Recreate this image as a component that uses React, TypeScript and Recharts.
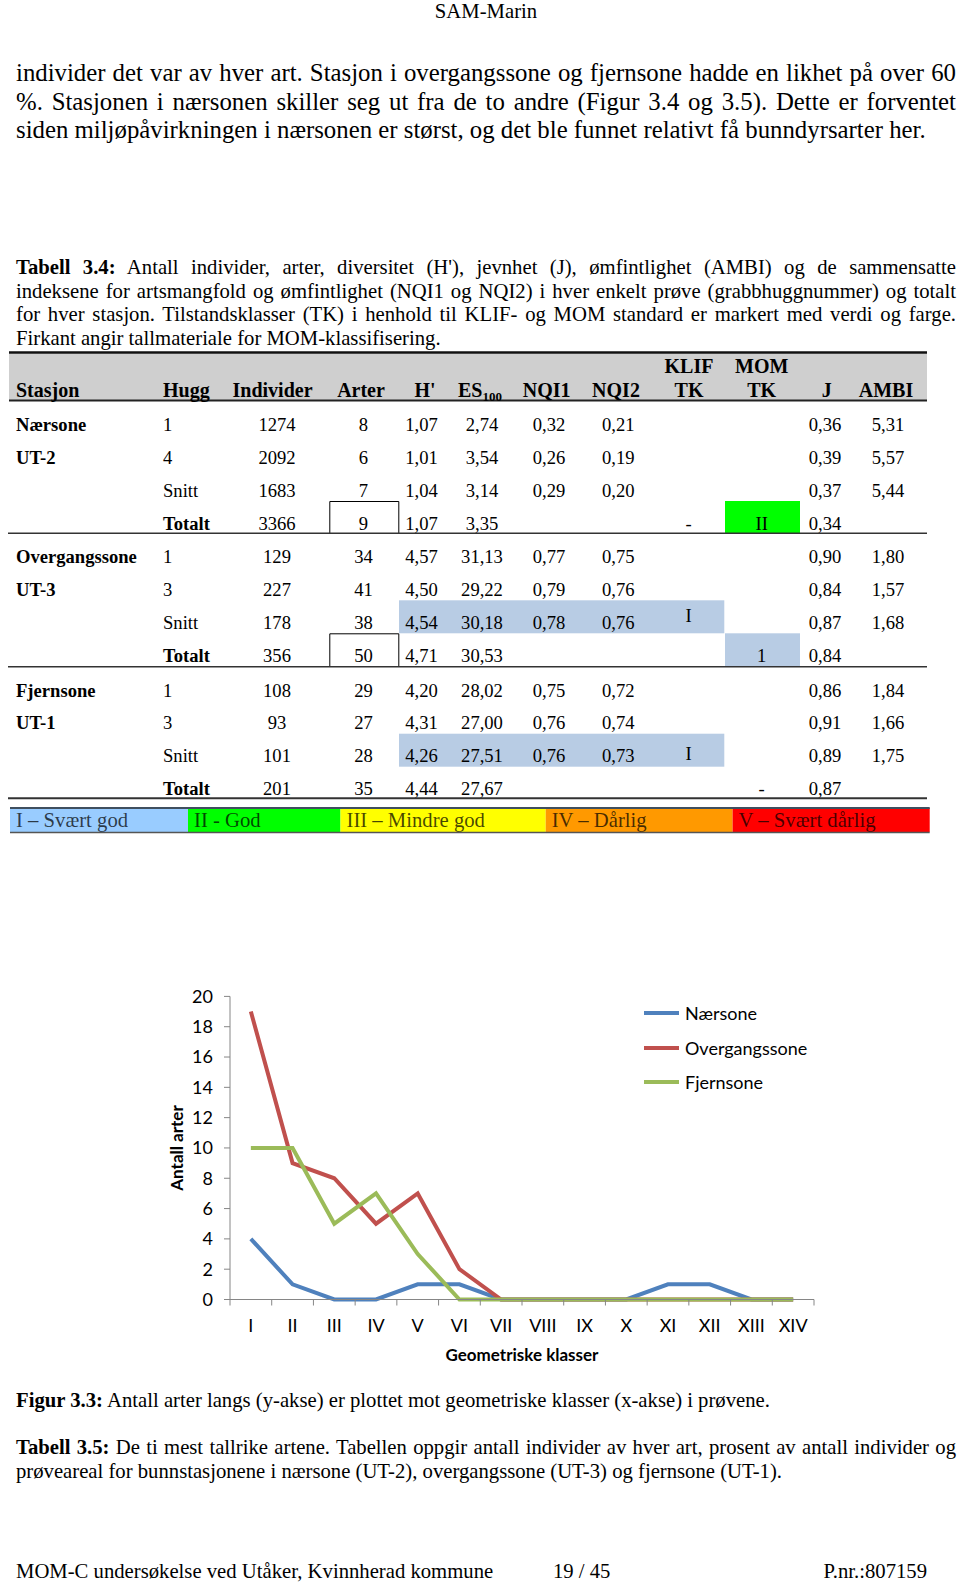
import React from 'react';
import { LineChart, Line, XAxis, YAxis, Legend, Label } from 'recharts';

// ---------------- chart data ----------------
const CATEGORIES = ['I', 'II', 'III', 'IV', 'V', 'VI', 'VII', 'VIII', 'IX', 'X', 'XI', 'XII', 'XIII', 'XIV'];
const NAERSONE = [4, 1, 0, 0, 1, 1, 0, 0, 0, 0, 1, 1, 0, 0];
const OVERGANGSSONE = [19, 9, 8, 5, 7, 2, 0, 0, 0, 0, 0, 0, 0, 0];
const FJERNSONE = [10, 10, 5, 7, 3, 0, 0, 0, 0, 0, 0, 0, 0, 0];
const SERIES_KEYS = ['naer', 'over', 'fjern'];
const SERIES_NAMES = ['Nærsone', 'Overgangssone', 'Fjernsone'];
const SERIES_COLORS = ['#4F81BD', '#C0504D', '#9BBB59'];
const Y_TICKS = [0, 2, 4, 6, 8, 10, 12, 14, 16, 18, 20];
const X_BOUNDARIES = [0.5, 1.5, 2.5, 3.5, 4.5, 5.5, 6.5, 7.5, 8.5, 9.5, 10.5, 11.5, 12.5, 13.5, 14.5];
const Y_TITLE = 'Antall arter';
const X_TITLE = 'Geometriske klasser';

// ---------------- table data ----------------
const STATIONS = ['Nærsone', 'Overgangssone', 'Fjernsone'];
const STATION_CODES = ['UT-2', 'UT-3', 'UT-1'];
const NAERSONE_ROWS = [
  ['1', '1274', '8', '1,07', '2,74', '0,32', '0,21', '', '', '0,36', '5,31'],
  ['4', '2092', '6', '1,01', '3,54', '0,26', '0,19', '', '', '0,39', '5,57'],
  ['Snitt', '1683', '7', '1,04', '3,14', '0,29', '0,20', '', '', '0,37', '5,44'],
  ['Totalt', '3366', '9', '1,07', '3,35', '', '', '-', 'II', '0,34', ''],
];
const OVERGANG_ROWS = [
  ['1', '129', '34', '4,57', '31,13', '0,77', '0,75', '', '', '0,90', '1,80'],
  ['3', '227', '41', '4,50', '29,22', '0,79', '0,76', '', '', '0,84', '1,57'],
  ['Snitt', '178', '38', '4,54', '30,18', '0,78', '0,76', 'I', '', '0,87', '1,68'],
  ['Totalt', '356', '50', '4,71', '30,53', '', '', '', '1', '0,84', ''],
];
const FJERN_ROWS = [
  ['1', '108', '29', '4,20', '28,02', '0,75', '0,72', '', '', '0,86', '1,84'],
  ['3', '93', '27', '4,31', '27,00', '0,76', '0,74', '', '', '0,91', '1,66'],
  ['Snitt', '101', '28', '4,26', '27,51', '0,76', '0,73', 'I', '', '0,89', '1,75'],
  ['Totalt', '201', '35', '4,44', '27,67', '', '', '', '-', '0,87', ''],
];
const SNITT_HIGHLIGHT = [false, true, true];
const TOTAL_MOM_FILL = ['#00FF00', '#B8CCE4', ''];
const BOXED_TOTAL = [true, true, false];
const CLASS_LABELS = ['I – Svært god', 'II - God', 'III – Mindre god', 'IV – Dårlig', 'V – Svært dårlig'];
const CLASS_COLORS = ['#99CCFF', '#00FF00', '#FFFF00', '#FF9900', '#FF0000'];

const SERIF = '"Liberation Serif", "Times New Roman", serif';
const SANS = 'Lato, "Open Sans", sans-serif';

// ---------------- layout ----------------
const CH_LEFT = 150;
const CH_TOP = 960;
const CH_W = 700;
const CH_H = 420;
const MARGIN = { top: 36.4, right: 36, bottom: 50.5, left: 20 };
const PLOT_W = CH_W - MARGIN.left - 60 - MARGIN.right;
const BAND = PLOT_W / CATEGORIES.length;

const chartData = CATEGORIES.map((c, i) => ({
  x: i + 1,
  cat: c,
  naer: NAERSONE[i],
  over: OVERGANGSSONE[i],
  fjern: FJERNSONE[i],
}));

const XTick = (props: any) => {
  const { x, y, payload } = props;
  const idx = Math.round(payload.value - 0.5);
  if (idx < 0 || idx >= CATEGORIES.length) return null;
  return (
    <text x={x + BAND / 2} y={y} dy={24} textAnchor="middle" fontSize={18} fill="#000" fontFamily={SANS}>
      {CATEGORIES[idx]}
    </text>
  );
};

const renderLegend = () => (
  <div style={{ fontFamily: SANS }}>
    {SERIES_NAMES.map((n, i) => (
      <div key={n} style={{ height: 34.3, display: 'flex', alignItems: 'center' }}>
        <span style={{ display: 'inline-block', width: 35, height: 4, background: SERIES_COLORS[i] }} />
        <span style={{ marginLeft: 6, fontSize: 18, lineHeight: '18px', color: '#000' }}>{n}</span>
      </div>
    ))}
  </div>
);

const Chart = () => (
  <div style={{ position: 'absolute', left: CH_LEFT, top: CH_TOP, width: CH_W, height: CH_H, fontFamily: SANS }}>
    <LineChart width={CH_W} height={CH_H} data={chartData} margin={MARGIN}>
      <XAxis
        type="number"
        dataKey="x"
        domain={[0.5, 14.5]}
        ticks={X_BOUNDARIES}
        interval={0}
        height={30}
        stroke="#868686"
        tickSize={6}
        tick={<XTick />}
      >
        <Label value={X_TITLE} position="bottom" offset={19} style={{ fontWeight: 'bold', fontSize: 17, fill: '#000', fontFamily: SANS }} />
      </XAxis>
      <YAxis
        type="number"
        domain={[0, 20]}
        ticks={Y_TICKS}
        interval={0}
        width={60}
        stroke="#868686"
        tickSize={6}
        tickMargin={11}
        tick={{ fill: '#000', fontSize: 18, fontFamily: SANS }}
      >
        <Label value={Y_TITLE} angle={-90} position="insideLeft" offset={7} style={{ textAnchor: 'middle', fontWeight: 'bold', fontSize: 17, fill: '#000', fontFamily: SANS }} />
      </YAxis>
      <Legend
        layout="vertical"
        align="center"
        verticalAlign="middle"
        wrapperStyle={{ left: 494, top: 36.35, width: 200 }}
        content={renderLegend}
      />
      {SERIES_KEYS.map((k, i) => (
        <Line
          key={k}
          type="linear"
          dataKey={k}
          name={SERIES_NAMES[i]}
          stroke={SERIES_COLORS[i]}
          strokeWidth={4}
          dot={false}
          activeDot={false}
          isAnimationActive={false}
        />
      ))}
    </LineChart>
  </div>
);

// ---------------- prose helpers ----------------
const Prose = ({ x, base, size, width, children }: { x: number; base: number; size: number; width?: number; children: any }) => (
  <div
    style={{
      position: 'absolute',
      left: x,
      top: base - 0.8375 * size,
      width: width ?? 'auto',
      fontSize: size,
      lineHeight: `${size}px`,
      textAlign: width ? 'justify' : 'left',
      textAlignLast: width ? 'justify' : 'auto',
      whiteSpace: width ? 'normal' : 'nowrap',
      fontFamily: SERIF,
      color: '#000',
    } as any}
  >
    {children}
  </div>
);

// ---------------- table ----------------
const GROUP_LINES = [401, 533.3, 666.7, 798.3];
const ROW_BASE = [30, 62.7, 95.5, 128.5];
const VAL_X = [277, 363.5, 421.5, 482, 549, 618.3, 688.5, 761.7, 825, 888];
const BODY = 18.6;
const HEAD = 20;

const T = ({ x, y, anchor = 'start', size = BODY, bold = false, fill = '#000', children }: any) => (
  <text x={x} y={y} textAnchor={anchor} fontSize={size} fontWeight={bold ? 'bold' : 'normal'} fill={fill} fontFamily={SERIF}>
    {children}
  </text>
);

const Table = () => {
  const groups = [NAERSONE_ROWS, OVERGANG_ROWS, FJERN_ROWS];
  return (
    <svg width={960} height={1585} style={{ position: 'absolute', left: 0, top: 0 }}>
      {/* header */}
      <rect x={9} y={353.5} width={918} height={46.5} fill="#CFCFCF" />
      <line x1={9} x2={927} y1={352.5} y2={352.5} stroke="#111" strokeWidth={2.5} />
      <line x1={9} x2={927} y1={400.5} y2={400.5} stroke="#222" strokeWidth={2} />
      <T x={16} y={397} size={HEAD} bold>Stasjon</T>
      <T x={163} y={397} size={HEAD} bold>Hugg</T>
      <T x={272.5} y={397} size={HEAD} bold anchor="middle">Individer</T>
      <T x={361} y={397} size={HEAD} bold anchor="middle">Arter</T>
      <T x={425} y={397} size={HEAD} bold anchor="middle">H'</T>
      <text x={458} y={397} fontSize={HEAD} fontWeight="bold" fontFamily={SERIF}>
        ES<tspan fontSize={13} dy={4}>100</tspan>
      </text>
      <T x={546.7} y={397} size={HEAD} bold anchor="middle">NQI1</T>
      <T x={616} y={397} size={HEAD} bold anchor="middle">NQI2</T>
      <T x={689} y={372.6} size={HEAD} bold anchor="middle">KLIF</T>
      <T x={689} y={397} size={HEAD} bold anchor="middle">TK</T>
      <T x={761.7} y={372.6} size={HEAD} bold anchor="middle">MOM</T>
      <T x={761.7} y={397} size={HEAD} bold anchor="middle">TK</T>
      <T x={826.7} y={397} size={HEAD} bold anchor="middle">J</T>
      <T x={886} y={397} size={HEAD} bold anchor="middle">AMBI</T>

      {groups.map((rows, g) => {
        const top = GROUP_LINES[g];
        const next = GROUP_LINES[g + 1];
        return (
          <g key={g}>
            {SNITT_HIGHLIGHT[g] && <rect x={399} y={top + 67} width={325.3} height={33} fill="#B8CCE4" />}
            {TOTAL_MOM_FILL[g] && <rect x={725} y={top + 100} width={75} height={next - top - 100} fill={TOTAL_MOM_FILL[g]} />}
            {BOXED_TOTAL[g] && (
              <path d={`M329.8 ${next} V${top + 100.5} H398.8 V${next}`} fill="none" stroke="#000" strokeWidth={1} />
            )}
            <T x={16} y={top + ROW_BASE[0]} bold>{STATIONS[g]}</T>
            <T x={16} y={top + ROW_BASE[1]} bold>{STATION_CODES[g]}</T>
            {rows.map((r, ri) => (
              <g key={ri}>
                <T x={163} y={top + ROW_BASE[ri]} bold={r[0] === 'Totalt'}>{r[0]}</T>
                {r.slice(1).map((v, ci) => {
                  if (!v) return null;
                  let y = top + ROW_BASE[ri];
                  if (ci === 6 && v === 'I') y -= g === 1 ? 7 : 2;
                  return (
                    <T key={ci} x={VAL_X[ci]} y={y} anchor="middle">{v}</T>
                  );
                })}
              </g>
            ))}
            <line x1={8} x2={927} y1={next} y2={next} stroke="#333" strokeWidth={g === 2 ? 2 : 1.5} />
          </g>
        );
      })}

      {/* class legend bar */}
      {CLASS_LABELS.map((lab, i) => {
        const xs = [10, 188, 340.5, 545.7, 732.6, 929.7];
        return (
          <g key={i}>
            <rect x={xs[i]} y={808} width={xs[i + 1] - xs[i]} height={24} fill={CLASS_COLORS[i]} />
            <text x={xs[i] + 6} y={827} fontSize={20.7} fontFamily={SERIF} fill="rgba(0,0,0,0.72)">{lab}</text>
          </g>
        );
      })}
      <line x1={10} x2={929.7} y1={808} y2={808} stroke="#3F4F5F" strokeWidth={2} />
      <line x1={10} x2={929.7} y1={832.5} y2={832.5} stroke="#555" strokeWidth={1.5} />
    </svg>
  );
};

export default function App() {
  return (
    <div style={{ position: 'absolute', left: 0, top: 0, width: 960, height: 1585, background: '#fff', overflow: 'hidden', fontFamily: SERIF }}>
      <div style={{ position: 'absolute', left: 286, top: 18.3 - 0.8375 * 20.7, width: 400, textAlign: 'center', fontSize: 20.7, lineHeight: '20.7px', fontFamily: SERIF }}>
        SAM-Marin
      </div>

      <Prose x={16} base={82.2} size={24.8} width={940}>individer det var av hver art. Stasjon i overgangssone og fjernsone hadde en likhet på over 60</Prose>
      <Prose x={16} base={110.5} size={24.8} width={940}>%. Stasjonen i nærsonen skiller seg ut fra de to andre (Figur 3.4 og 3.5). Dette er forventet</Prose>
      <Prose x={16} base={138.8} size={24.8}>siden miljøpåvirkningen i nærsonen er størst, og det ble funnet relativt få bunndyrsarter her.</Prose>

      <Prose x={16} base={274.2} size={20.7} width={940}><b>Tabell 3.4:</b> Antall individer, arter, diversitet (H'), jevnhet (J), ømfintlighet (AMBI) og de sammensatte</Prose>
      <Prose x={16} base={298.2} size={20.7} width={940}>indeksene for artsmangfold og ømfintlighet (NQI1 og NQI2) i hver enkelt prøve (grabbhuggnummer) og totalt</Prose>
      <Prose x={16} base={321.5} size={20.7} width={940}>for hver stasjon. Tilstandsklasser (TK) i henhold til KLIF- og MOM standard er markert med verdi og farge.</Prose>
      <Prose x={16} base={345.7} size={20.7}>Firkant angir tallmateriale for MOM-klassifisering.</Prose>

      <Table />
      <Chart />

      <Prose x={16} base={1407} size={20.7}><b>Figur 3.3:</b> Antall arter langs (y-akse) er plottet mot geometriske klasser (x-akse) i prøvene.</Prose>
      <Prose x={16} base={1454} size={20.7} width={940}><b>Tabell 3.5:</b> De ti mest tallrike artene. Tabellen oppgir antall individer av hver art, prosent av antall individer og</Prose>
      <Prose x={16} base={1478} size={20.7}>prøveareal for bunnstasjonene i nærsone (UT-2), overgangssone (UT-3) og fjernsone (UT-1).</Prose>

      <Prose x={16} base={1578} size={20.7}>MOM-C undersøkelse ved Utåker, Kvinnherad kommune</Prose>
      <Prose x={553} base={1578} size={20.7}>19 / 45</Prose>
      <Prose x={823.6} base={1578} size={20.7}>P.nr.:807159</Prose>
    </div>
  );
}
